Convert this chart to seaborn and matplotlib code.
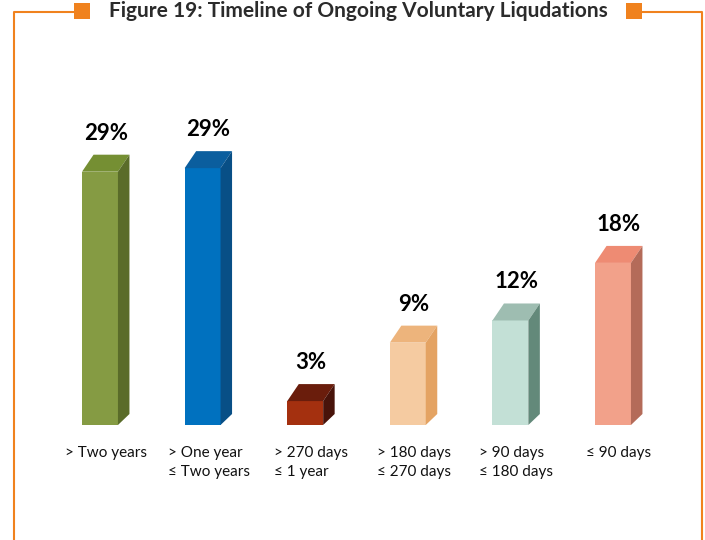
import matplotlib
matplotlib.use("Agg")
import matplotlib.pyplot as plt
import seaborn as sns
from matplotlib.patches import Polygon, Rectangle
from matplotlib.lines import Line2D
from matplotlib.transforms import ScaledTranslation

# ---------------------------------------------------------------
# data
# ---------------------------------------------------------------
categories = ["> Two years", "> One year\n\u2264 Two years", "> 270 days\n\u2264 1 year",
              "> 180 days\n\u2264 270 days", "> 90 days\n\u2264 180 days", "\u2264 90 days"]
values = [28.6, 29.0, 2.7, 9.3, 11.8, 18.3]
value_labels = ["29%", "29%", "3%", "9%", "12%", "18%"]

front_colors = ["#859B43", "#0071BF", "#A4300F", "#F5CBA1", "#C3E0D6", "#F2A18A"]
top_colors = ["#758F33", "#0B5E9E", "#6A1D0C", "#EDB47C", "#9EBDB1", "#EE8B73"]
side_colors = ["#5A6C29", "#084F86", "#48130A", "#E4A363", "#63897A", "#B46B59"]

TITLE = "Figure 19: Timeline of Ongoing Voluntary Liqudations"
ORANGE = "#F0821E"

W, H = 705, 540
sns.set_theme(style="white")
plt.rcParams["font.family"] = ["Lato", "DejaVu Sans"]

fig = plt.figure(figsize=(W / 100, H / 100), dpi=100)
fig.patch.set_facecolor("white")

# axes placed in pixel terms
ax_left, ax_right = 48.7, 664.3
ax_bottom_px, ax_top_px = 425, 115
ymax = 35
ax = fig.add_axes([ax_left / W, (H - ax_bottom_px) / H,
                   (ax_right - ax_left) / W, (ax_bottom_px - ax_top_px) / H])

bar_w = 0.35
sns.barplot(x=categories, y=values, hue=categories, palette=front_colors,
            width=bar_w, legend=False, saturation=1, ax=ax, linewidth=0)
ax.set_xlim(-0.5, len(categories) - 0.5)
ax.set_ylim(0, ymax)
ax.set_facecolor("none")
for s in ax.spines.values():
    s.set_visible(False)
ax.set_yticks([])
ax.set_ylabel("")
ax.set_xlabel("")

# 3D depth in pixels -> data units
px_x = (ax_right - ax_left) / len(categories)
px_y = (ax_bottom_px - ax_top_px) / ymax
dx = 11.5 / px_x
dy = 17 / px_y
dyb = 11 / px_y

for i, (v, lab) in enumerate(zip(values, value_labels)):
    x0, x1 = i - bar_w / 2, i + bar_w / 2
    top = Polygon([(x0, v), (x1, v), (x1 + dx, v + dy), (x0 + dx, v + dy)],
                  closed=True, facecolor=top_colors[i], edgecolor="none")
    side = Polygon([(x1, 0), (x1 + dx, dyb), (x1 + dx, v + dy), (x1, v)],
                   closed=True, facecolor=side_colors[i], edgecolor="none")
    ax.add_patch(top)
    ax.add_patch(side)
    ax.text(i + dx / 2, v + dy + 11 / px_y, lab, ha="center", va="bottom",
            fontsize=16, fontweight="bold", color="black")

ax.set_xticks(range(len(categories)))
ax.set_xticklabels(categories, fontsize=11, color="#111111")
ax.tick_params(axis="x", length=0, pad=15)
shift = ScaledTranslation(6 / 100, 0, fig.dpi_scale_trans)
for t in ax.get_xticklabels():
    t.set_multialignment("left")
    t.set_verticalalignment("top")
    t.set_linespacing(1.45)
    t.set_transform(t.get_transform() + shift)

# frame and title
def fx(x):
    return x / W

def fy(y):
    return 1 - y / H

fig.add_artist(Line2D([fx(14), fx(14), fx(74)], [fy(540), fy(12), fy(12)],
                      color=ORANGE, lw=1.5))
fig.add_artist(Line2D([fx(642), fx(702), fx(702)], [fy(12), fy(12), fy(540)],
                      color=ORANGE, lw=1.5))
fig.add_artist(Rectangle((fx(74), fy(19)), 16 / W, 16 / H, transform=fig.transFigure,
                         facecolor=ORANGE, edgecolor="none"))
fig.add_artist(Rectangle((fx(626), fy(19)), 16 / W, 16 / H, transform=fig.transFigure,
                         facecolor=ORANGE, edgecolor="none"))
fig.text(fx(358), fy(11), TITLE, ha="center", va="center", fontsize=15,
         fontweight="bold", color="#2b2b2b")

fig.savefig("out.png", dpi=100, facecolor="white")
